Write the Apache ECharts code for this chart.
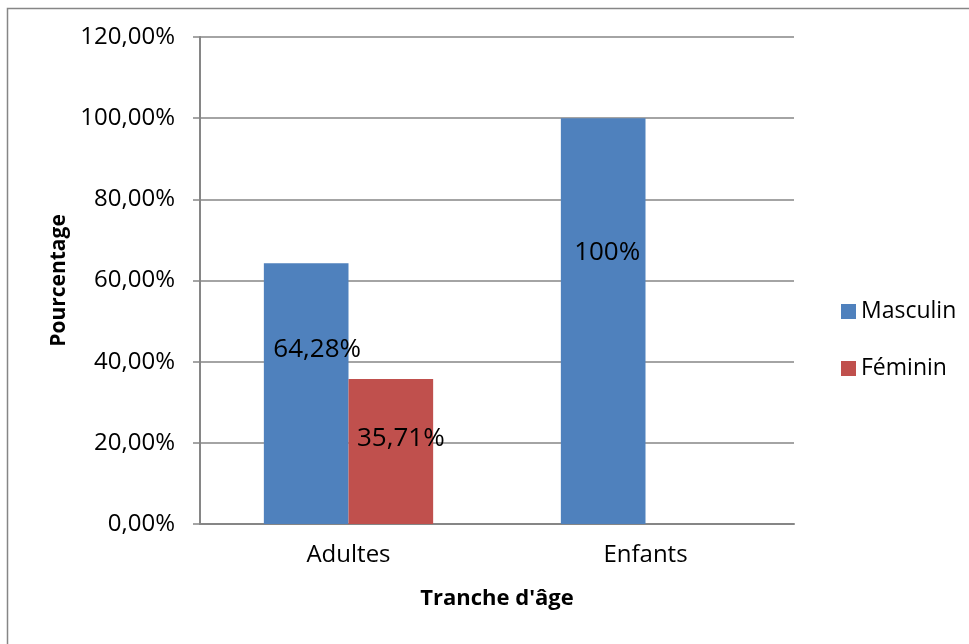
<!DOCTYPE html>
<html style="height: 100%">
<head>
<meta charset="utf-8">
<title>Tranche d'âge</title>
<script src="https://cdn.jsdelivr.net/npm/echarts@6/dist/echarts.min.js"></script>
</head>
<body style="margin:0;height:100%;background:#fff">
<div id="main" style="width:969px;height:644px"></div>
<script>
// valeurs
var categories = ['Adultes', 'Enfants'];
var masculin = [64.28, 100];
var feminin = [35.71, null];
var masculinLabels = ['64,28%', '100%'];
var femininLabels = ['35,71%', ''];

var chart = echarts.init(document.getElementById('main'));
var font = '"Open Sans", "Noto Sans", sans-serif';
var gray = '#868686';

// decalage des etiquettes (comme dans le classeur d'origine)
var mOffsets = [[11, -44], [4, -68]];
var fOffsets = [[10, -13], [0, 0]];

var option = {
    animation: false,
    textStyle: { fontFamily: font },
    graphic: [{
        type: 'rect',
        shape: { x: 7.5, y: 8.5, width: 990, height: 660 },
        style: { fill: 'none', stroke: gray, lineWidth: 1.5 },
        silent: true
    }],
    grid: { left: 200, right: 175, top: 37, bottom: 120 },
    legend: {
        orient: 'vertical',
        left: 836,
        top: 295,
        itemWidth: 15,
        itemHeight: 15,
        itemGap: 34,
        icon: 'rect',
        textStyle: { fontSize: 23, color: '#000', fontFamily: font },
        data: ['Masculin', 'Féminin']
    },
    xAxis: {
        type: 'category',
        data: categories,
        name: "Tranche d'âge",
        nameLocation: 'middle',
        nameGap: 64,
        nameTextStyle: { fontSize: 22, fontWeight: 'bold', color: '#000' },
        axisLine: { lineStyle: { color: gray, width: 2 } },
        axisTick: { show: false },
        axisLabel: { fontSize: 24, color: '#000', margin: 19 }
    },
    yAxis: {
        type: 'value',
        min: 0,
        max: 120,
        interval: 20,
        name: 'Pourcentage',
        nameLocation: 'middle',
        nameGap: 126,
        nameTextStyle: { fontSize: 21, fontWeight: 'bold', color: '#000' },
        axisLine: { show: true, lineStyle: { color: gray, width: 2 } },
        axisTick: { show: true, length: 7, lineStyle: { color: gray, width: 1.5 } },
        splitLine: { lineStyle: { color: gray, width: 1.5 } },
        axisLabel: {
            fontSize: 24, color: '#000', margin: 25,
            formatter: function (v) { return v.toFixed(2).replace('.', ',') + '%'; }
        }
    },
    series: [{
        name: 'Masculin',
        type: 'bar',
        barGap: 0,
        barCategoryGap: '43%',
        itemStyle: { color: '#4F81BD' },
        data: masculin.map(function (v, i) {
            return {
                value: v,
                label: { show: true, position: 'inside', offset: mOffsets[i],
                    formatter: masculinLabels[i], fontSize: 26, color: '#000' }
            };
        })
    }, {
        name: 'Féminin',
        type: 'bar',
        itemStyle: { color: '#C0504D' },
        data: feminin.map(function (v, i) {
            return {
                value: v,
                label: { show: v != null, position: 'inside', offset: fOffsets[i],
                    formatter: femininLabels[i], fontSize: 26, color: '#000' }
            };
        })
    }]
};

chart.setOption(option);
</script>
</body>
</html>
